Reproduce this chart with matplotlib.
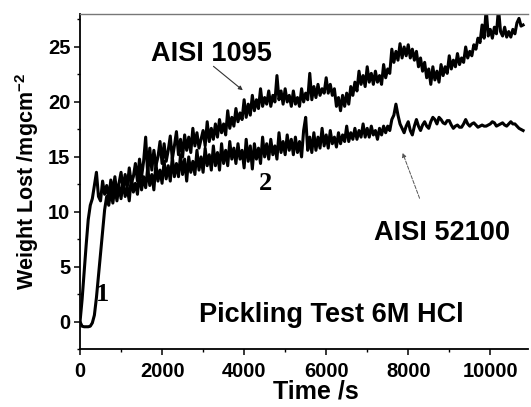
import numpy as np
import matplotlib
matplotlib.use("Agg")
import matplotlib.pyplot as plt

plt.rcParams['font.family'] = ['Liberation Sans', 'DejaVu Sans']
plt.rcParams['font.weight'] = 'bold'
plt.rcParams['mathtext.fontset'] = 'custom'
plt.rcParams['mathtext.bf'] = 'Liberation Sans:bold'

# ---- data ----
# AISI 1095 : fast initial rise, then the upper noisy curve
t_1095_start = [0, 50, 100, 150, 200, 250]
w_1095_start = [0.0, 2.0, 4.5, 7.0, 9.3, 10.6]
t_1095 = np.arange(300, 10850, 50)
w_1095 = [11.2, 12.4, 13.6, 11.4, 11.0, 12.8, 11.6, 12.4, 11.2, 12.9,
          11.8, 13.2, 11.6, 12.6, 13.6, 12.0, 13.4, 12.2, 14.0, 12.6,
          13.2, 14.4, 12.8, 14.8, 13.2, 14.6, 16.8, 13.4, 15.8, 13.8,
          15.6, 14.2, 15.0, 16.4, 14.4, 16.2, 14.6, 15.6, 16.9, 14.8,
          16.0, 17.3, 15.2, 16.6, 15.0, 17.0, 15.6, 16.8, 15.4, 17.6,
          16.0, 17.2, 15.8, 16.6, 17.4, 16.0, 18.2, 16.4, 17.6, 16.6,
          18.0, 16.8, 18.4, 17.2, 18.0, 17.0, 19.2, 17.6, 18.6, 17.8,
          19.4, 18.2, 19.0, 18.4, 20.2, 18.6, 19.8, 18.8, 20.6, 19.2,
          20.2, 19.4, 21.2, 19.6, 20.4, 19.8, 21.0, 19.6, 20.6, 20.0,
          22.4, 20.2, 21.0, 19.8, 21.2, 20.0, 20.6, 19.6, 21.0, 19.8,
          20.4, 19.6, 21.2, 20.0, 20.8, 20.2, 22.6, 20.2, 21.4, 20.4,
          21.6, 20.6, 21.2, 20.8, 22.2, 20.8, 21.6, 20.6, 21.2, 19.6,
          20.4, 19.2, 20.6, 19.6, 20.8, 19.8, 21.4, 20.6, 21.8, 21.0,
          22.8, 21.6, 22.4, 21.4, 23.2, 21.8, 22.6, 21.6, 22.8, 21.8,
          22.4, 21.6, 23.4, 22.2, 23.0, 22.6, 24.8,
          23.6, 24.6, 23.8, 25.3, 24.0, 25.0, 24.2, 25.2, 24.0, 24.8,
          23.8, 24.6, 23.2, 24.0, 22.8, 23.6, 22.2, 23.0, 21.6, 23.2,
          22.0, 22.8, 21.8, 23.4, 22.4, 23.2, 22.6, 24.2, 23.0, 23.8,
          23.2, 24.4, 23.4, 24.0, 23.6, 25.0, 24.0, 24.6, 24.2, 25.2,
          24.8, 25.8, 25.4, 27.0, 25.8, 28.5, 26.0, 26.6, 25.8, 26.8,
          26.2, 28.5, 26.4, 26.0, 26.8, 25.9, 26.4, 25.9, 26.6, 26.2,
          27.2, 27.6, 26.9, 27.0]

# AISI 52100 : delayed rise (curve "1"), then the lower curve
t_52100_start = [0, 50, 100, 150, 200, 250, 300, 350, 400, 450, 500, 550, 600]
w_52100_start = [0.0, -0.4, -0.45, -0.45, -0.45, -0.4, -0.1, 0.6, 2.2, 4.2,
                 6.2, 8.2, 10.2]
t_52100 = np.arange(650, 10850, 50)
w_52100 = [11.4, 10.6, 11.9, 10.8, 12.2, 11.0, 12.4, 11.2, 12.8, 11.4,
           12.2, 11.0, 13.2, 11.8, 12.6, 11.6, 13.6, 12.0, 13.2, 12.2,
           14.0, 12.4, 13.4, 12.0, 14.4, 12.8, 13.8, 12.6, 14.6, 13.0,
           14.2, 12.8, 15.0, 13.2, 14.4, 13.2, 15.2, 13.4, 14.8, 12.8,
           15.0, 13.6, 14.6, 13.4, 15.6, 13.8, 15.0, 13.6, 15.8, 14.2,
           15.2, 13.8, 16.0, 14.2, 15.4, 13.8, 16.2, 14.4, 15.6, 14.2,
           16.4, 14.8, 15.8, 14.4, 16.2, 14.8, 15.6, 14.0, 16.6, 14.6,
           16.0, 13.9, 16.2, 14.8, 15.8, 14.4, 16.8, 15.0, 16.2, 14.8,
           16.6, 15.2, 16.0, 14.8, 17.2, 15.4, 16.4, 15.2, 17.0, 15.6,
           16.6, 15.2, 16.8, 15.4, 16.4, 15.0, 17.4, 18.6, 15.6, 16.8,
           15.4, 17.2, 15.6, 16.8, 15.8, 17.6, 16.0, 17.0, 15.8, 17.4,
           16.2, 16.8, 15.9, 17.2, 16.2, 17.0, 16.4, 17.8, 16.4, 17.2,
           16.6, 17.6, 16.6, 17.4, 16.8, 18.0, 16.8, 17.6, 16.8, 17.8,
           17.0, 17.4, 16.6, 17.6, 17.0, 17.8, 17.2, 17.8, 17.4, 18.4,
           18.8, 19.8, 18.8, 18.0, 17.6, 17.2, 17.8, 18.2, 17.4, 17.0,
           17.8, 18.4, 17.8, 17.4, 17.9, 18.2, 17.8, 17.6, 18.2, 18.6,
           18.4, 18.0, 18.6, 18.4, 18.1, 18.0, 18.3, 18.3, 17.9, 17.6,
           17.8, 17.9, 17.7, 17.7, 18.0, 18.4, 18.0, 17.8, 18.0, 18.1,
           17.9, 17.7, 17.8, 17.9, 17.8, 17.8, 17.9, 18.0, 18.2, 18.1,
           17.8, 17.9, 18.0, 18.1, 17.9, 17.8, 18.0, 18.2, 18.0, 18.0,
           17.8, 17.6, 17.5, 17.4]

x1 = np.concatenate([t_1095_start, t_1095])
y1 = np.concatenate([w_1095_start, w_1095])
x2 = np.concatenate([t_52100_start, t_52100])
y2 = np.concatenate([w_52100_start, w_52100])

fig = plt.figure(figsize=(5.31, 4.07), dpi=100)
ax = fig.add_axes([0.1507, 0.1418, 0.8437, 0.8238])

ax.plot(x1, y1, color='black', lw=2.2)
ax.plot(x2, y2, color='black', lw=2.2)

ax.set_xlim(0, 10920)
ax.set_ylim(-2.5, 28)
ax.set_xticks([0, 2000, 4000, 6000, 8000, 10000])
ax.set_xticks(np.arange(1000, 11000, 2000), minor=True)
ax.set_yticks([0, 5, 10, 15, 20, 25])
ax.set_yticks(np.arange(-2.5, 28, 5), minor=True)
ax.tick_params(which='major', direction='out', length=4, width=1.1, labelsize=14.5)
ax.tick_params(which='minor', direction='out', length=2.5, width=1.0)
ax.tick_params(axis='x', pad=5)
ax.tick_params(axis='y', pad=3)

ax.spines['right'].set_visible(False)
ax.spines['top'].set_color('#777777')
ax.spines['top'].set_linewidth(1.0)
for s in ['left', 'bottom']:
    ax.spines[s].set_linewidth(1.3)

ax.set_xlabel('Time /s', fontsize=18, fontweight='bold', labelpad=1)
ax.xaxis.set_label_coords(0.527, -0.09)
ax.set_ylabel('Weight Lost /mgcm$^{\\mathbf{-2}}$', fontsize=15.5, fontweight='bold', labelpad=5)

ax.text(3200, 24.4, 'AISI 1095', fontsize=19.5, fontweight='bold', ha='center', va='center')
ax.annotate('', xy=(4020, 20.9), xytext=(3200, 23.4),
            arrowprops=dict(arrowstyle='-|>', color='#333333', lw=0.8,
                            mutation_scale=6))
ax.text(8820, 8.05, 'AISI 52100', fontsize=19.5, fontweight='bold', ha='center', va='center')
ax.annotate('', xy=(7840, 15.6), xytext=(8300, 11.0),
            arrowprops=dict(arrowstyle='-|>', color='#555555', lw=0.7,
                            linestyle='--', mutation_scale=6))
ax.text(6120, 0.6, 'Pickling Test 6M HCl', fontsize=19.5, fontweight='bold',
        ha='center', va='center')

ax.text(540, 2.5, '1', family='Liberation Serif', fontsize=19, fontweight='bold',
        ha='center', va='center')
ax.text(4510, 12.6, '2', family='Liberation Serif', fontsize=19, fontweight='bold',
        ha='center', va='center')

fig.savefig('out.png', dpi=100)
